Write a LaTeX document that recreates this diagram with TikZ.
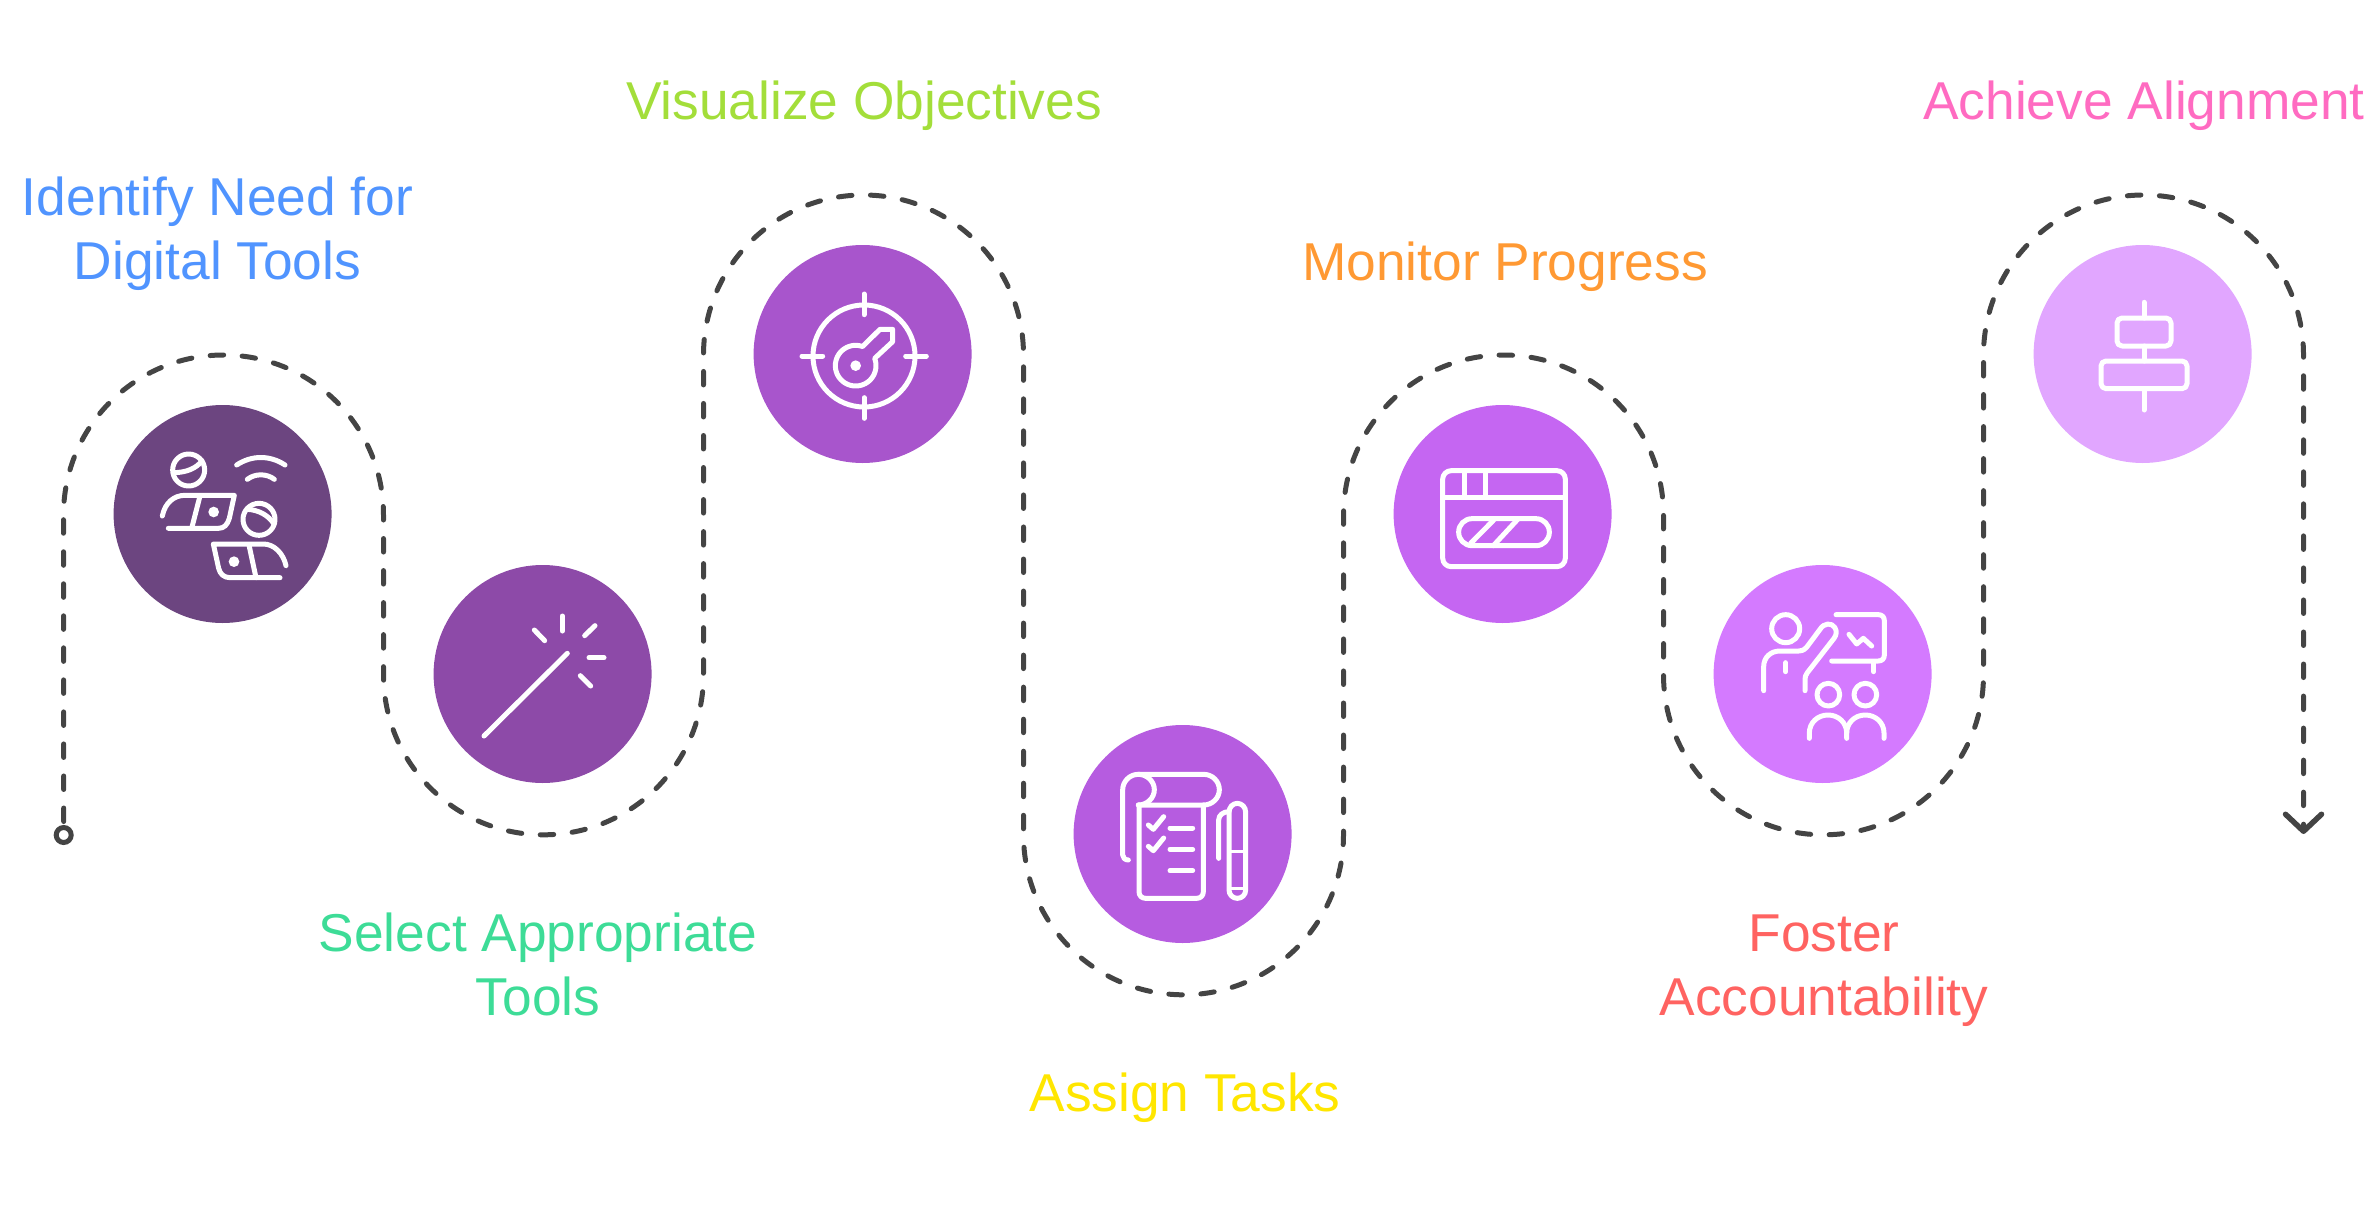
\documentclass[tikz,border=0pt]{standalone}
\usepackage{fontspec}
\setmainfont{Liberation Sans}
\usetikzlibrary{arrows.meta}
\definecolor{cA}{HTML}{6C4580}
\definecolor{cB}{HTML}{8D4AA8}
\definecolor{cC}{HTML}{A855CC}
\definecolor{cD}{HTML}{B65CE0}
\definecolor{cE}{HTML}{C566F2}
\definecolor{cF}{HTML}{D47AFF}
\definecolor{cG}{HTML}{E1A6FF}
\definecolor{tA}{HTML}{5094FF}
\definecolor{tB}{HTML}{3DDC97}
\definecolor{tC}{HTML}{A3DE3A}
\definecolor{tD}{HTML}{FFE600}
\definecolor{tE}{HTML}{FF9933}
\definecolor{tF}{HTML}{FF6361}
\definecolor{tG}{HTML}{FF6BC1}
\definecolor{flowcol}{HTML}{444444}
\tikzset{
  disc/.style={circle,minimum size=218pt,inner sep=0pt,fill=#1},
  label/.style={text=#1,font=\fontsize{53.3}{63.5}\selectfont,align=center,inner sep=0pt,anchor=base},
  flow/.style={draw=flowcol,line width=5pt,line cap=round,dash pattern=on 13.5pt off 18.53pt,dash phase=28.53pt},
  icon/.style={draw=white,line width=5pt,line cap=round,line join=round},
  thinicon/.style={draw=white,line width=2.6pt},
  dot/.style={fill=white,draw=none},
  zoomed/.style={x=0.33333pt,y=-0.33333pt}
}
\begin{document}
\begin{tikzpicture}[x=1pt,y=-1pt]
\useasboundingbox (0,0) rectangle (2365,1217);
\node[disc=cA] (n1) at (222.6,514) {};
\node[disc=cB] (n2) at (542.6,674) {};
\node[disc=cC] (n3) at (862.6,354) {};
\node[disc=cD] (n4) at (1182.6,834) {};
\node[disc=cE] (n5) at (1502.6,514) {};
\node[disc=cF] (n6) at (1822.6,674) {};
\node[disc=cG] (n7) at (2142.6,354) {};
% connector
\node[circle,draw=flowcol,line width=5pt,minimum size=15pt,inner sep=0pt] (start) at (63.7,835) {};
\coordinate (finish) at (2303.5,834);
\draw[flow,-{Straight Barb[length=17pt,width=36pt,line width=5.5pt,round]}] (start.north) -- (63.5,515)
 .. controls (63.5,426.6) and (135.1,355) .. (223.5,355)
 .. controls (311.9,355) and (383.5,426.6) .. (383.5,515) -- (383.5,674.8)
 .. controls (383.5,763.2) and (455.1,834.8) .. (543.5,834.8)
 .. controls (631.9,834.8) and (703.5,763.2) .. (703.5,674.8) -- (703.5,355)
 .. controls (703.5,266.6) and (775.1,195) .. (863.5,195)
 .. controls (951.9,195) and (1023.5,266.6) .. (1023.5,355) -- (1023.5,834.8)
 .. controls (1023.5,923.2) and (1095.1,994.8) .. (1183.5,994.8)
 .. controls (1271.9,994.8) and (1343.5,923.2) .. (1343.5,834.8) -- (1343.5,515)
 .. controls (1343.5,426.6) and (1415.1,355) .. (1503.5,355)
 .. controls (1591.9,355) and (1663.5,426.6) .. (1663.5,515) -- (1663.5,674.8)
 .. controls (1663.5,763.2) and (1735.1,834.8) .. (1823.5,834.8)
 .. controls (1911.9,834.8) and (1983.5,763.2) .. (1983.5,674.8) -- (1983.5,355)
 .. controls (1983.5,266.6) and (2055.1,195) .. (2143.5,195)
 .. controls (2231.9,195) and (2303.5,266.6) .. (2303.5,355) -- (finish);
% labels (a two-line label is anchored at the baseline of its last line)
\node[label=tA] (l1) at (217.5,279) {Identify Need for\\Digital Tools};
\node[label=tB] (l2) at (538,1015) {Select Appropriate\\Tools};
\node[label=tC] (l3) at (864,120) {Visualize Objectives};
\node[label=tD] (l4) at (1185,1111) {Assign Tasks};
\node[label=tE] (l5) at (1505,280) {Monitor Progress};
\node[label=tF] (l6) at (1824,1015) {Foster\\Accountability};
\node[label=tG] (l7) at (2144,120) {Achieve Alignment};
% icon 1
\begin{scope}[shift={(100,390)},zoomed]
\draw[icon] (266,240) circle (48);
\draw[icon] (220,248) .. controls (258,248) and (290,235) .. (306,212);
\draw[icon] (187,378) .. controls (195,338) and (222,316) .. (255,316) -- (403,316) -- (388,385) .. controls (382,405) and (372,415) .. (355,415) -- (205,415);
\draw[icon] (300,318) -- (275,415);
\fill[dot] (341,366) circle (16);
\draw[icon] (410,225) .. controls (455,195) and (510,195) .. (555,225);
\draw[icon] (442,268) .. controls (465,250) and (500,250) .. (523,268);
\draw[icon] (477,388) circle (48);
\draw[icon] (443,358) .. controls (475,360) and (505,375) .. (522,402);
\draw[icon] (558,527) .. controls (550,490) and (522,462) .. (490,462) -- (340,462) -- (356,535) .. controls (360,552) and (372,563) .. (390,563) -- (540,563);
\draw[icon] (447,465) -- (468,563);
\fill[dot] (402,515) circle (16);
\end{scope}
% icon 2
\begin{scope}[shift={(420,550)},zoomed]
\draw[icon] (192,558) -- (442,310);
\draw[icon] (427,198) -- (427,243);
\draw[icon] (343,240) -- (374,272);
\draw[icon] (525,227) -- (494,257);
\draw[icon] (507,323) -- (552,323);
\draw[icon] (481,377) -- (512,408);
\end{scope}
% icon 3
\begin{scope}[shift={(740,230)},zoomed]
\draw[icon] (372,378) circle (153);
\draw[icon] (372,192) -- (372,254);
\draw[icon] (372,503) -- (372,565);
\draw[icon] (186,378) -- (248,378);
\draw[icon] (497,378) -- (559,378);
\draw[icon] (458,335) -- (458,298) -- (420,298) -- (367,350) -- plot[domain=-71:-381,samples=50] ({347+61*cos(\x)},{407+61*sin(\x)}) -- cycle;
\fill[dot] (347,407) circle (16);
\end{scope}
% icon 4
\begin{scope}[shift={(1060,715)},zoomed]
\draw[icon] (205,435) .. controls (195,435) and (188,428) .. (188,420) -- (188,225) .. controls (188,199) and (209,178) .. (235,178) -- (431,178) .. controls (457,178) and (478,199) .. (478,224) .. controls (478,249) and (457,270) .. (431,270) -- (235,270);
\draw[icon] (235,178) .. controls (261,178) and (283,199) .. (283,224) .. controls (283,249) and (261,270) .. (235,270);
\draw[icon] (237,270) -- (237,530) .. controls (237,542) and (245,550) .. (257,550) -- (410,550) .. controls (422,550) and (430,542) .. (430,530) -- (430,270);
\draw[icon] (265,330) -- (280,343) -- (311,305);
\draw[icon] (265,394) -- (280,407) -- (311,369);
\draw[icon] (330,339) -- (398,339);
\draw[icon] (330,403) -- (398,403);
\draw[icon] (330,467) -- (398,467);
\draw[icon] (507,292) .. controls (507,277) and (518,265) .. (532,265) .. controls (546,265) and (557,277) .. (557,292) -- (557,525) .. controls (557,539) and (546,550) .. (532,550) .. controls (518,550) and (507,539) .. (507,525) -- cycle;
\draw[icon] (476,430) -- (476,315) .. controls (476,300) and (490,290) .. (507,290);
\draw[thinicon] (507,410) -- (557,410);
\draw[thinicon] (507,520) -- (557,520);
\end{scope}
% icon 5
\begin{scope}[shift={(1380,390)},zoomed]
\draw[icon,rounded corners=8.5pt] (188,242) rectangle (556,530);
\draw[icon] (188,322) -- (556,322);
\draw[icon] (252,242) -- (252,322);
\draw[icon] (316,242) -- (316,322);
\draw[icon,rounded corners=13.3pt] (236,386) rectangle (508,467);
\draw[icon] (272,460) -- (345,386);
\draw[icon] (340,467) -- (415,386);
\end{scope}
% icon 6
\begin{scope}[shift={(1700,550)},zoomed]
\draw[icon] (257,236) circle (42);
\draw[icon] (191,422) -- (191,350) .. controls (191,322) and (212,303) .. (240,303) -- (296,303) .. controls (310,303) and (318,295) .. (325,285) -- (360,238) .. controls (372,218) and (395,218) .. (404,232) .. controls (411,243) and (410,254) .. (402,265) -- (322,368) .. controls (317,375) and (315,380) .. (315,388) -- (315,422);
\draw[icon] (257,338) -- (257,365);
\draw[icon] (408,194) -- (535,194) .. controls (546,194) and (553,201) .. (553,212) -- (553,315) .. controls (553,326) and (546,333) .. (535,333) -- (395,333);
\draw[icon] (521,340) -- (521,365);
\draw[icon] (447,253) -- (470,282) -- (490,265) -- (515,288);
\draw[icon] (385,434) circle (34);
\draw[icon] (496,434) circle (34);
\draw[icon] (328,565) -- (328,549) .. controls (328,518) and (353,495) .. (384,495) .. controls (415,495) and (440,518) .. (440,549) -- (440,565);
\draw[icon] (440,549) .. controls (440,518) and (465,495) .. (496,495) .. controls (527,495) and (552,518) .. (552,549) -- (552,565);
\end{scope}
% icon 7
\begin{scope}[shift={(2020,230)},zoomed]
\draw[icon] (372,217) -- (372,264);
\draw[icon] (372,348) -- (372,393);
\draw[icon] (372,476) -- (372,540);
\draw[icon,rounded corners=5pt] (291,264) rectangle (453,348);
\draw[icon,rounded corners=5pt] (243,393) rectangle (501,476);
\end{scope}
\end{tikzpicture}
\end{document}
